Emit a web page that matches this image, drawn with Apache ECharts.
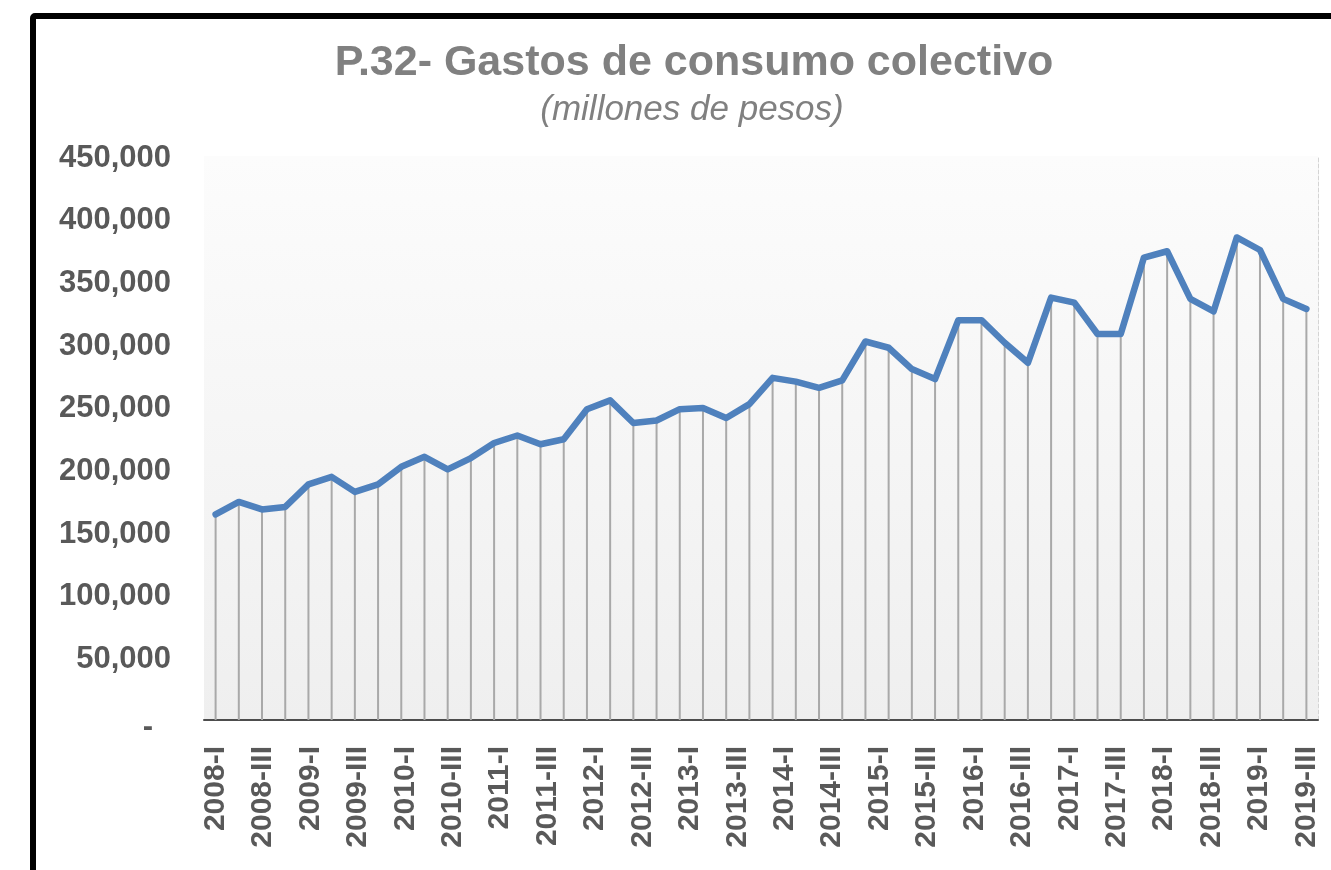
<!doctype html>
<html>
<head>
<meta charset="utf-8">
<title>P.32- Gastos de consumo colectivo</title>
<script src="https://cdn.jsdelivr.net/npm/echarts@6/dist/echarts.min.js"></script>
<style>
  html, body { margin:0; padding:0; background:#fff; overflow:hidden; }
  #main { position:absolute; left:0; top:0; width:1331px; height:870px; }
  #marco { position:absolute; left:30px; top:13px; width:1400px; height:1000px; border:6px solid #000; border-radius:5px; pointer-events:none; }
</style>
</head>
<body>
<div id="main"></div>
<div id="marco"></div>
<script>
// trimestres (categorias de datos)
var trimestres = [
  '2008-I','2008-II','2008-III','2008-IV','2009-I','2009-II','2009-III','2009-IV',
  '2010-I','2010-II','2010-III','2010-IV','2011-I','2011-II','2011-III','2011-IV',
  '2012-I','2012-II','2012-III','2012-IV','2013-I','2013-II','2013-III','2013-IV',
  '2014-I','2014-II','2014-III','2014-IV','2015-I','2015-II','2015-III','2015-IV',
  '2016-I','2016-II','2016-III','2016-IV','2017-I','2017-II','2017-III','2017-IV',
  '2018-I','2018-II','2018-III','2018-IV','2019-I','2019-II','2019-III','2019-IV'
];
// millones de pesos
var gasto = [
  164000, 174000, 168000, 170000, 188000, 194000, 182000, 188000,
  202000, 210000, 200000, 209000, 221000, 227000, 220000, 224000,
  248000, 255000, 237000, 239000, 248000, 249000, 241000, 252000,
  273000, 270000, 265000, 271000, 302000, 297000, 280000, 272000,
  319000, 319000, 301000, 285000, 337000, 333000, 308000, 308000,
  369000, 374000, 336000, 326000, 385000, 375000, 336000, 328000
];
// etiquetas del eje X tal como aparecen
var etiquetasX = [
  '2008-I','2008-III','2009-I','2009-III','2010-I','2010-III','2011-I','2011-III',
  '2012-I','2012-III','2013-I','2013-III','2014-I','2014-III','2015-I','2015-III',
  '2016-I','2016-III','2017-I','2017-III','2018-I','2018-III','2019-I','2019-III'
];
var yMin = 0, yMax = 450000, yPaso = 50000;

var fuente = "'Liberation Sans', Arial, sans-serif";
var gL = 204, gR = 13, gT = 156, gB = 150;
var anchoCat = (1331 - gL - gR) / trimestres.length;

var chart = echarts.init(document.getElementById('main'));
var option = {
  backgroundColor: '#fff',
  animation: false,
  title: [
    { text: 'P.32- Gastos de consumo colectivo', left: 689, top: 37, textAlign: 'center',
      textStyle: { fontFamily: fuente, fontSize: 43, fontWeight: 'bold', color: '#808080' } },
    { text: '(millones de pesos)', left: 687, top: 88, textAlign: 'center',
      textStyle: { fontFamily: fuente, fontSize: 35, fontStyle: 'italic', fontWeight: 'normal', color: '#808080' } }
  ],
  grid: [
    { left: gL, right: gR, top: gT, bottom: gB, show: true, borderWidth: 0,
      backgroundColor: new echarts.graphic.LinearGradient(0, 0, 0, 1, [
        { offset: 0, color: '#fcfcfc' }, { offset: 1, color: '#efefef' }
      ]) },
    // rejilla auxiliar solo para las etiquetas del eje X
    { left: gL + anchoCat / 2, right: gR + anchoCat / 2, top: gT, bottom: gB, show: false }
  ],
  xAxis: [
    { type: 'category', gridIndex: 0, data: trimestres, boundaryGap: true,
      axisLine: { show: true, lineStyle: { color: '#4d4d4d', width: 2 } },
      axisTick: { show: false }, axisLabel: { show: false }, splitLine: { show: false } },
    { type: 'category', gridIndex: 1, data: etiquetasX, boundaryGap: false,
      axisLine: { show: false }, axisTick: { show: false }, splitLine: { show: false },
      axisLabel: { interval: 0, rotate: 90, margin: 26, fontFamily: fuente, fontSize: 30,
        fontWeight: 'bold', color: '#595959' } }
  ],
  yAxis: [
    { type: 'value', gridIndex: 0, min: yMin, max: yMax, interval: yPaso,
      axisLine: { show: false }, axisTick: { show: false }, splitLine: { show: false },
      axisLabel: { margin: 33, fontFamily: fuente, fontSize: 31, fontWeight: 'bold', color: '#595959',
        padding: [4, 0, 0, 0],
        formatter: function (v) { return v === 0 ? '{z|-}' : v.toLocaleString('en-US'); },
        rich: { z: { fontFamily: fuente, fontSize: 31, fontWeight: 'bold', color: '#595959',
          padding: [10, 18, 0, 0] } } } },
    { type: 'value', gridIndex: 0, position: 'right', min: yMin, max: yMax, interval: yPaso,
      axisLine: { show: true, lineStyle: { color: '#d4d4d4', type: 'dashed', width: 1 } },
      axisTick: { show: false }, axisLabel: { show: false }, splitLine: { show: false } },
    { type: 'value', gridIndex: 1, show: false, min: yMin, max: yMax }
  ],
  series: [
    { name: 'caida', type: 'bar', xAxisIndex: 0, yAxisIndex: 0, data: gasto, barWidth: 2,
      itemStyle: { color: '#a9a9a9' }, silent: true, z: 1 },
    { name: 'Gastos de consumo colectivo', type: 'line', xAxisIndex: 0, yAxisIndex: 0, data: gasto,
      symbol: 'none', z: 3,
      lineStyle: { color: '#4f81bd', width: 6.5, cap: 'round', join: 'round' } }
  ]
};
chart.setOption(option);
</script>
</body>
</html>
